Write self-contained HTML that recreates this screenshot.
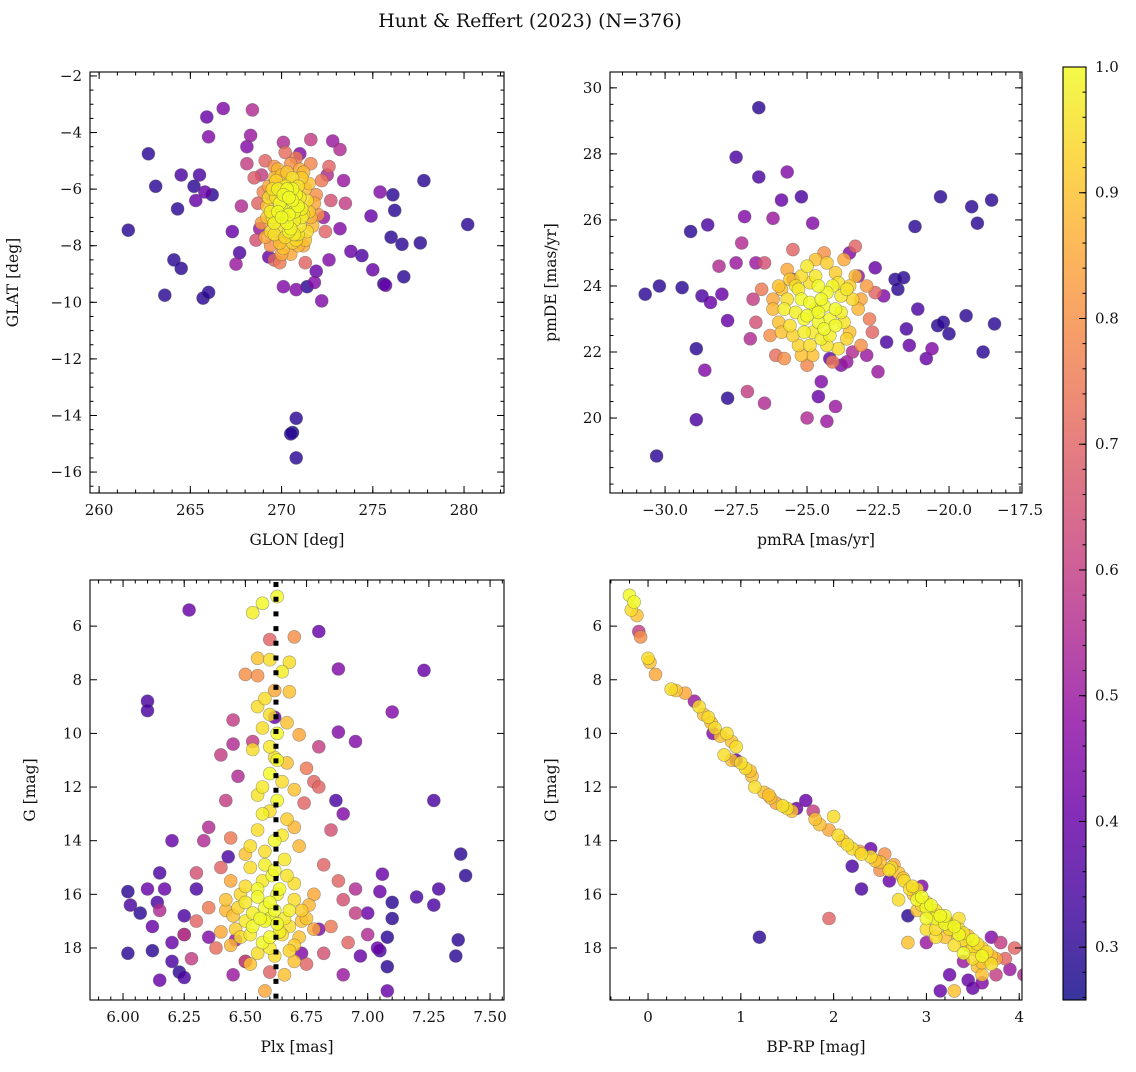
<!DOCTYPE html>
<html><head><meta charset="utf-8">
<style>
html,body{margin:0;padding:0;background:#fff;}
svg text{font-family:"DejaVu Serif","Liberation Serif",serif;fill:#111;}
</style></head>
<body>
<svg id="fig" width="1136" height="1067" viewBox="0 0 1136 1067" xmlns="http://www.w3.org/2000/svg">
<text x="530" y="27" font-size="19" text-anchor="middle">Hunt &amp; Reffert (2023) (N=376)</text>
</svg>
<script>
// ---- data: [x, y, membership probability] per panel ----
const glonData = [261.6,262.7,263.1,263.6,264.1,264.3,264.5,264.5,265.2,265.3,265.5,265.7,265.8,265.9,266,266,266.2,266.8,267.3,267.5,267.7,267.8,268.1,268.1,268.4,268.3,268.8,268.9,269.3,269.4,269.6,270.1,270.1,270,270.5,270.6,270.8,270.8,270.8,271,271.4,271.6,271.8,271.9,272.2,272.3,272.6,272.8,272.5,273.2,273.4,273.2,273.5,273.8,274.4,274.9,275,275.4,275.6,275.7,276,276.1,276.2,276.6,276.7,277.6,277.8,280.2,
270.5,270.2,270.8,269.9,271.1,270.4,270.9,269.7,271.3,270.0,270.6,269.5,271.5,270.3,270.7,269.8,271.0,269.3,271.7,270.1,269.2,271.9,270.5,269.6,271.2,268.9,272.0,270.8,269.0,272.2,269.4,271.6,268.7,272.4,270.2,269.1,272.7,268.5,271.3,269.9,272.6,268.6,270.6,270.0,270.9,270.4,269.6,271.4,269.4,271.1,
270.3,270.7,269.9,271.0,270.5,269.8,271.2,270.1,270.6,269.6,271.4,270.4,270.8,269.5,270.2,271.0,269.7,270.9,269.4,271.3,270.0,270.6,270.3,271.5,269.3,270.7,269.9,271.1,270.4,269.8,271.6,270.2,270.9,269.2,271.8,270.5,269.6,271.2,270.0,269.1];
const glatData = [-7.45,-4.75,-5.9,-9.75,-8.5,-6.7,-5.5,-8.8,-5.9,-6.4,-5.5,-9.85,-6.1,-3.45,-4.15,-9.65,-6.2,-3.15,-7.5,-8.65,-8.25,-6.6,-4.5,-5.1,-3.2,-4.1,-7.4,-5.5,-8.4,-6.2,-8.5,-4.35,-9.45,-7.8,-14.65,-14.6,-15.5,-14.1,-9.55,-4.75,-9.45,-4.25,-9.3,-8.9,-9.95,-7,-8.5,-4.3,-5.5,-4.6,-5.7,-7.4,-6.5,-8.2,-8.35,-6.95,-8.85,-6.1,-9.35,-9.4,-7.7,-6.2,-6.75,-7.95,-9.1,-7.9,-5.7,-7.25,
-6.5,-6.9,-6.2,-7.3,-7.0,-5.8,-7.6,-6.3,-6.0,-5.5,-7.9,-7.0,-6.8,-7.2,-6.8,-6.0,-5.3,-5.9,-7.3,-8.1,-6.6,-6.2,-5.1,-5.2,-8.0,-7.2,-6.9,-4.9,-6.1,-5.7,-8.0,-5.1,-6.5,-7.5,-4.7,-5.0,-6.4,-5.6,-8.6,-8.6,-5.2,-7.8,-6.0,-6.7,-6.6,-7.5,-7.6,-7.5,-6.8,-5.6,
-6.0,-7.1,-6.5,-6.3,-7.4,-6.8,-6.9,-6.2,-5.6,-7.2,-6.4,-6.9,-7.8,-6.0,-7.7,-7.3,-5.7,-5.9,-7.5,-7.8,-7.0,-6.4,-5.4,-5.8,-6.3,-7.6,-7.9,-6.7,-6.3,-5.3,-7.0,-5.9,-8.0,-7.0,-6.5,-8.3,-5.6,-5.4,-8.3,-7.7];
const probP1 = [.3,.3,.3,.3,.3,.3,.35,.3,.3,.4,.35,.3,.4,.4,.45,.3,.3,.45,.4,.5,.35,.55,.45,.6,.55,.5,.5,.6,.4,.6,.7,.55,.45,.7,.3,.25,.3,.3,.45,.45,.3,.6,.45,.4,.45,.5,.45,.5,.55,.55,.5,.45,.6,.4,.35,.4,.4,.45,.3,.4,.3,.3,.3,.3,.3,.3,.3,.3,
1,1,1,.95,.98,.95,.97,.96,.9,.9,.93,.97,.92,1,1,.98,.85,.85,.88,.9,.9,.8,.8,.8,.85,.82,.8,.75,.78,.75,.8,.78,.7,.7,.72,.7,.65,.68,.7,.75,.7,.65,1,1,1,.99,.95,.95,.98,.92,
1,.98,1,.97,.99,1,.96,1,.95,.98,.95,1,.94,.96,.95,.97,.93,.96,.94,.9,1,1,.9,.9,.95,.97,.9,.98,1,.88,.88,.97,.88,.9,.85,.85,.88,.88,.85,.85];

const pmraData = [-30.7,-30.3,-30.2,-29.4,-29.1,-28.9,-28.9,-28.7,-28.5,-28.6,-28.4,-28.1,-28.0,-27.8,-27.8,-27.5,-27.5,-27.3,-27.2,-27.1,-26.8,-26.7,-26.7,-26.5,-26.2,-25.9,-25.7,-25.5,-25.2,-25,-24.8,-24.6,-24.5,-24.3,-24.2,-24,-23.8,-23.6,-23.5,-23.4,-23.2,-22.9,-22.6,-22.5,-22.3,-22.2,-21.9,-21.8,-21.6,-21.5,-21.4,-21.2,-21.1,-20.8,-20.6,-20.4,-20.3,-20.2,-20.0,-19.4,-19.2,-19.0,-18.8,-18.5,-18.4,-22.7,-26.9,-27.0,
-24.7,-25.2,-24.2,-25.6,-23.8,-24.9,-24.5,-25.9,-23.5,-24.0,-25.3,-26.2,-23.2,-24.8,-25.7,-23.7,-26.3,-22.9,-24.4,-25.0,-26.6,-23.1,-26.1,-22.8,-25.5,-24.1,-26.5,-23.3,-26.8,-22.6,-25.1,-24.3,-24.6,-25.0,-23.9,-25.8,-23.6,-24.4,-25.4,-24.1,
-24.9,-24.4,-25.4,-24.0,-24.7,-25.1,-23.7,-25.7,-24.2,-24.6,-25.3,-23.9,-24.8,-26.0,-23.4,-25.5,-24.3,-25.0,-23.6,-26.0,-24.5,-25.2,-23.3,-24.9,-25.9,-24.0,-24.6,-25.6,-23.8,-24.3,-25.2,-23.5,-26.2,-24.7,-23.1,-25.8];
const pmdeData = [23.75,18.85,24,23.95,25.65,22.1,19.95,23.7,25.85,21.45,23.5,24.6,23.75,22.95,20.6,27.9,24.7,25.3,26.1,20.8,24.7,29.4,27.3,20.45,26.05,26.6,27.45,24.2,26.7,20,25.9,20.65,21.1,19.9,21.8,20.35,21.6,21.7,25,22.0,24.3,21.9,24.55,21.4,23.7,22.3,24.2,23.9,24.25,22.7,22.2,25.8,23.3,21.8,22.1,22.8,26.7,22.9,22.55,23.1,26.4,25.9,22.0,26.6,22.85,22.6,23.6,22.4,
23.3,23.6,23.0,22.8,23.7,24.1,22.4,23.9,22.6,24.4,22.2,23.3,23.3,21.9,24.5,24.8,22.5,24.0,25.0,21.6,23.9,22.2,21.9,23.0,25.1,21.7,24.7,25.2,22.9,23.8,23.0,23.8,22.9,24.6,22.1,23.3,23.9,22.7,24.0,24.0,
23.5,23.4,23.2,23.3,24.3,22.6,22.9,23.6,22.5,24.0,23.9,24.1,22.6,22.9,23.6,22.5,24.7,23.1,22.4,24.0,23.6,24.3,24.3,22.2,22.6,22.8,23.2,24.2,23.2,22.2,21.9,24.0,23.6,24.8,23.6,21.8];
const probP2 = [.3,.3,.3,.3,.3,.3,.35,.35,.35,.45,.4,.55,.4,.4,.3,.35,.5,.55,.45,.6,.5,.3,.35,.55,.5,.4,.45,.6,.35,.55,.45,.4,.45,.5,.4,.5,.45,.5,.45,.55,.5,.5,.4,.5,.45,.35,.3,.3,.3,.35,.4,.3,.35,.4,.45,.3,.3,.3,.3,.3,.3,.3,.3,.3,.3,.7,.6,.55,
1,1,1,.95,.97,.95,.98,.9,.9,.92,.93,.88,.88,.9,.85,.85,.8,.82,.8,.78,.75,.8,.72,.75,.7,.75,.65,.7,.65,.7,1,1,1,.97,.95,.98,.97,1,.96,.99,
1,1,.98,1,.97,.98,.96,.95,.98,1,.97,.96,.97,.9,.94,.93,.92,1,.93,.9,1,.95,.9,.95,.9,1,1,.92,.98,.96,.9,.92,.85,.9,.85,.8];

const plxData = [6.63,6.57,6.53,6.55,6.6,6.68,6.5,6.65,6.62,6.68,6.55,6.6,6.67,6.57,6.63,6.72,6.53,6.62,6.67,6.6,6.65,6.57,6.7,6.63,6.6,6.67,6.55,6.7,6.62,6.58,6.66,6.52,6.61,6.7,6.55,6.63,6.5,6.58,6.68,6.45,6.6,6.73,6.53,6.64,6.48,6.57,6.7,6.62,6.52,6.66,6.58,6.42,6.76,6.78,6.4,6.44,6.5,6.72,
6.53,6.45,6.4,6.75,6.78,6.8,6.74,6.42,6.47,6.85,6.82,6.35,6.4,6.3,6.88,6.9,6.35,6.3,6.85,6.92,6.38,6.82,6.5,6.75,6.6,6.7,6.55,6.6,6.8,6.44,6.95,6.25,6.28,7.0,6.95,6.15,6.45,6.33,
6.27,6.8,6.88,7.23,6.1,6.1,6.62,7.1,6.88,6.95,6.87,7.27,6.9,6.2,6.43,7.38,6.15,7.06,7.4,6.02,6.1,6.17,6.3,7.05,7.1,7.2,7.29,6.03,6.07,6.14,6.25,7.0,6.12,7.1,7.27,6.25,6.8,7.08,6.2,6.02,6.12,6.35,6.46,6.2,6.23,6.25,6.15,6.5,6.45,7.05,7.04,6.97,7.08,7.37,7.36,6.73,6.9,7.08,
6.55,6.62,6.5,6.68,6.58,6.46,6.7,6.6,6.53,6.66,6.48,6.72,6.57,6.64,6.5,6.75,6.44,6.6,6.68,6.55,6.62,6.58,6.67,6.52,6.65,6.57,6.63,6.55,6.6,6.58,6.47,6.73,6.6,6.52,6.65,6.42,6.78,6.56,6.63,6.7];
const gPlxData = [4.9,5.15,5.5,7.2,7.25,7.35,7.8,7.7,8.4,8.45,9,9.3,9.6,9.8,10.0,10.05,10.6,10.9,11.1,11.5,11.8,12.0,12.1,12.5,12.9,13.2,13.6,13.5,14.0,14.4,14.7,15.0,15.3,15.6,15.8,16.0,16.3,16.5,16.6,16.8,16.9,17.0,17.2,17.4,17.6,17.8,17.9,18.3,18.6,19.0,19.6,16.2,16.4,17.3,17.4,15.5,14.5,14.2,
10.3,10.4,10.8,11.3,11.8,12,12.6,12.5,11.6,13.6,14.9,13.5,15.0,15.2,15.5,16.2,16.5,17.0,17.2,17.8,18.0,18.2,18.5,18.6,18.9,6.4,7.85,6.5,10.5,13.9,16.7,17.5,18.4,17.5,15.8,16.6,9.5,14.0,
5.4,6.2,7.6,7.65,8.8,9.15,9.4,9.2,9.95,10.3,12.5,12.5,13.0,14.0,14.6,14.5,15.2,15.25,15.3,15.9,15.8,15.8,15.8,15.9,16.3,16.1,15.8,16.4,16.7,16.3,16.8,16.7,17.2,16.9,16.4,17.5,17.3,17.6,17.8,18.2,18.1,17.6,17.7,18.5,18.9,19.1,19.2,18.5,19.0,18.1,18.0,18.3,18.7,17.7,18.3,18.2,19.0,19.6,
16.1,16.6,17.0,17.2,17.0,17.3,16.2,17.6,16.7,16.9,16.0,17.6,15.5,15.8,15.7,16.9,17.9,18.0,18.1,18.2,15.1,14.9,15.3,14.2,13.8,13.0,11.0,12.3,10.5,8.7,16.5,16.6,16.3,17.5,17.5,16.6,16.0,16.9,17.1,18.5];
const probP3 = [1,1,.98,.9,.95,.95,.8,.98,.85,.9,.95,.95,.9,.95,1,.85,.95,.95,.9,1,.95,.97,.9,1,.95,.92,.95,.88,1,.95,.97,.95,1,.95,1,1,.97,1,.98,.9,1,.9,1,.98,.95,1,.92,.95,.9,.9,.85,.9,.88,.85,.85,.85,.9,.88,
.6,.55,.6,.75,.7,.7,.7,.6,.55,.65,.7,.55,.7,.65,.7,.65,.75,.7,.75,.7,.72,.65,.65,.7,.7,.8,.8,.7,.6,.75,.6,.6,.6,.55,.55,.55,.6,.55,
.4,.4,.45,.4,.35,.35,.4,.45,.45,.45,.35,.35,.45,.4,.35,.3,.35,.4,.3,.3,.4,.4,.35,.4,.3,.35,.35,.35,.3,.35,.35,.4,.4,.3,.35,.4,.45,.3,.4,.3,.3,.45,.5,.35,.3,.35,.4,.45,.5,.35,.4,.4,.3,.3,.3,.45,.5,.4,
1,1,.97,.95,1,.92,.95,1,.98,.97,.94,.9,.97,1,.95,.9,.88,.97,.93,.95,1,.98,.96,.95,.97,.98,1,.96,.97,.95,.93,.92,1,.97,.95,.88,.85,1,1,.9];

const bprpData = [-0.2,-0.15,-0.18,-0.12,-0.1,-0.08,0,0.02,0.08,0.3,0.4,0.5,0.55,0.6,0.68,0.72,0.78,0.85,0.95,0.82,0.9,1.05,1.12,1.15,1.25,1.32,1.38,1.5,1.55,1.7,1.85,1.95,2.0,2.05,2.1,2.2,2.28,2.4,2.5,2.55,2.62,2.7,2.76,2.82,2.86,2.9,2.95,3.0,3.05,3.1,3.15,3.2,3.25,3.3,3.35,3.4,3.45,3.5,3.55,3.6,3.65,3.7,3.55,3.6,3.3,2.8,3.0,3.2,2.7,2.9,3.1,3.35,2.5,1.95,1.2,2.3,2.2,1.78,3.9,4.1,4.05,3.85,3.95,3.8,3.6,3.45,3.25,2.8,2.6,3.5,3.15,3.75,3.4,2.4,1.6,0.95,0.7,3.0,3.7,2.95,
2.3,2.45,2.6,2.75,2.85,2.95,3.0,3.05,3.1,3.15,3.2,3.25,3.3,3.35,3.4,3.45,3.5,3.55,3.6,3.65,3.7,3.75,3.6,3.5,3.4,3.3,3.2,3.1,3.0,2.9,1.0,1.1,0.65,0.9,1.45,1.8,2.15,2.65,1.3,0.25];
const gCmdData = [4.85,5.1,5.4,5.6,6.2,6.4,7.2,7.35,7.8,8.4,8.5,8.8,9.0,9.3,9.6,9.8,10.1,10.0,10.5,10.8,11.0,11.3,11.6,12.0,12.2,12.4,12.6,12.8,12.9,12.5,13.4,13.6,13.1,13.8,14.0,14.3,14.4,14.6,14.8,14.5,15.0,15.2,15.5,15.8,16.0,16.2,16.4,16.5,16.7,16.9,17.0,17.1,17.3,17.4,17.5,17.7,17.9,18.0,18.1,18.3,18.4,18.6,18.7,19.0,19.6,17.8,17.3,16.8,16.2,15.8,17.6,16.9,15.1,16.9,17.6,15.8,14.95,12.9,18.8,18.1,19.0,18.4,18.0,17.8,19.3,19.2,19.0,16.8,15.5,19.5,19.6,19.0,18.5,14.3,12.8,11.0,10.0,17.8,17.6,15.7,
14.5,14.75,15.1,15.4,15.7,16.1,16.3,16.4,16.6,16.8,16.95,17.1,17.2,17.3,17.45,17.55,17.7,17.85,18.0,18.15,18.3,18.4,18.55,18.4,18.2,17.9,17.6,17.3,16.9,16.6,11.1,11.4,9.4,10.3,12.7,13.2,14.15,14.9,12.3,8.35];
const probP4 = [1,1,.95,.9,.6,.8,.95,.9,.85,.9,.85,.5,.95,.9,.9,.95,.9,.95,.95,.95,.9,.95,.9,.95,.9,.9,.85,.95,.9,.4,.9,.85,.95,.95,.9,.95,.85,.95,.9,.8,.95,.9,.95,.95,.9,1,.95,1,.95,1,.95,1,.95,.9,1,.95,.9,.95,.9,1,.9,.95,.9,.9,.9,.9,.95,1,.95,.95,.95,.95,.8,.7,.3,.35,.35,.6,.5,.4,.55,.7,.7,.6,.45,.4,.4,.3,.4,.4,.4,.6,.5,.4,.4,.4,.45,.5,.45,.45,
.95,.9,.95,.9,.95,1,.95,1,.95,1,.95,.9,1,.95,.95,.9,1,.95,.9,.95,.9,.85,.9,.95,1,.95,.9,.95,1,.9,.95,.9,.95,.9,.95,.9,.95,.85,.9,.95];

const cbTicks = [0.3,0.4,0.5,0.6,0.7,0.8,0.9,1.0];
const VMIN = 0.258, VMAX = 1.0;

const NS = "http://www.w3.org/2000/svg";
const svg = document.getElementById('fig');
function mk(tag, attrs, parent){
  const e = document.createElementNS(NS, tag);
  for (const k in attrs) e.setAttribute(k, attrs[k]);
  (parent||svg).appendChild(e);
  return e;
}
const plasma = [[13,8,135],[65,4,157],[106,0,168],[143,13,164],[177,42,144],[204,71,120],[225,100,98],[242,132,75],[252,166,54],[252,206,37],[240,249,33]];
function cmap(v){
  let t = (v-VMIN)/(VMAX-VMIN); t=Math.max(0,Math.min(1,t));
  const f=t*10, i=Math.min(9,Math.floor(f)), r=f-i;
  const a=plasma[i], b=plasma[i+1];
  return 'rgb('+a.map((c,j)=>Math.round(c+(b[j]-c)*r)).join(',')+')';
}
function fmt(v, dec){ const s=v.toFixed(dec); return s.replace('-', '\u2212'); }

const panels = [
 {name:'glon-glat', box:[90,72,504,493], xlim:[259.5,282.19], ylim:[-16.74,-1.86], xt:[260,280,5,0], xm:1, yt:[-16,-2,2,0], ym:0.5, x:glonData, y:glatData, p:probP1, xl:'GLON [deg]', yl:'GLAT [deg]', ylx:18},
 {name:'pmra-pmde', box:[610,72,1022,493], xlim:[-31.94,-17.43], ylim:[17.73,30.48], xt:[-30,-17.5,2.5,1], xm:0.5, yt:[20,30,2,0], ym:0.5, x:pmraData, y:pmdeData, p:probP2, xl:'pmRA [mas/yr]', yl:'pmDE [mas/yr]', ylx:556},
 {name:'plx-g', box:[90,580,504,1000], xlim:[5.865,7.557], ylim:[19.94,4.28], xt:[6,7.5,0.25,2], xm:0.05, yt:[6,18,2,0], ym:0.5, x:plxData, y:gPlxData, p:probP3, xl:'Plx [mas]', yl:'G [mag]', ylx:35, vline:6.625},
 {name:'cmd', box:[610,580,1022,1000], xlim:[-0.41,4.03], ylim:[19.94,4.28], xt:[0,4,1,0], xm:0.2, yt:[6,18,2,0], ym:0.5, x:bprpData, y:gCmdData, p:probP4, xl:'BP-RP [mag]', yl:'G [mag]', ylx:556}
];

panels.forEach((P, pi)=>{
  const [x0,y0,x1,y1]=P.box;
  const sx=v=>x0+(v-P.xlim[0])/(P.xlim[1]-P.xlim[0])*(x1-x0);
  const sy=v=>y1-(v-P.ylim[0])/(P.ylim[1]-P.ylim[0])*(y1-y0);
  const g=mk('g',{});
  
  
  const cid='clip'+pi;
  const cp=mk('clipPath',{id:cid},g); mk('rect',{x:x0,y:y0,width:x1-x0,height:y1-y0},cp);
  const pts=mk('g',{'clip-path':'url(#'+cid+')'},g);
  
  
  const idx=P.x.map((_,i)=>i).sort((a,b)=>P.p[a]-P.p[b]);
  idx.forEach(i=>{
    const c=mk('circle',{cx:sx(P.x[i]).toFixed(1),cy:sy(P.y[i]).toFixed(1),r:6.5,fill:cmap(P.p[i]),'fill-opacity':0.82,stroke:'rgba(90,90,90,0.55)','stroke-width':0.6},pts);
    
    
  });
  if (P.vline!==undefined){
    const l=mk('line',{x1:sx(P.vline),x2:sx(P.vline),y1:y0+2,y2:y1,stroke:'#000','stroke-width':5,'stroke-dasharray':'5,9.7'},pts);
    
    
  }
  mk('rect',{x:x0,y:y0,width:x1-x0,height:y1-y0,fill:'none',stroke:'#000','stroke-width':1.1},g);
  const [xa,xb,xs,xd]=P.xt;
  for(let v=Math.ceil(P.xlim[0]/P.xm)*P.xm; v<=P.xlim[1]+1e-9; v+=P.xm){
    const X=sx(v); mk('line',{x1:X,x2:X,y1:y1,y2:y1-3.5,stroke:'#000'},g); mk('line',{x1:X,x2:X,y1:y0,y2:y0+3.5,stroke:'#000'},g);
  }
  for(let v=xa; v<=xb+1e-9; v+=xs){
    const X=sx(v); mk('line',{x1:X,x2:X,y1:y1,y2:y1-7,stroke:'#000'},g); mk('line',{x1:X,x2:X,y1:y0,y2:y0+7,stroke:'#000'},g);
    const t=mk('text',{x:X,y:y1+22,'font-size':15,'text-anchor':'middle'},g); t.textContent=fmt(v,xd);
    
    
  }
  const [ya,yb,ys,yd]=P.yt;
  for(let v=Math.ceil(P.ylim[0]/P.ym)*P.ym; v<=P.ylim[1]+1e-9; v+=P.ym){
    const Y=sy(v); mk('line',{x1:x0,x2:x0+3.5,y1:Y,y2:Y,stroke:'#000'},g); mk('line',{x1:x1,x2:x1-3.5,y1:Y,y2:Y,stroke:'#000'},g);
  }
  for(let v=ya; v<=yb+1e-9; v+=ys){
    const Y=sy(v); mk('line',{x1:x0,x2:x0+7,y1:Y,y2:Y,stroke:'#000'},g); mk('line',{x1:x1,x2:x1-7,y1:Y,y2:Y,stroke:'#000'},g);
    const t=mk('text',{x:x0-8,y:Y+5,'font-size':15,'text-anchor':'end'},g); t.textContent=fmt(v,yd);
    
    
  }
  const xl=mk('text',{x:(x0+x1)/2,y:y1+52,'font-size':15.5,'text-anchor':'middle'},g); xl.textContent=P.xl;
  
  
  const yl=mk('text',{x:P.ylx,y:(y0+y1)/2,'font-size':15.5,'text-anchor':'middle',transform:'rotate(-90 '+P.ylx+' '+((y0+y1)/2)+')'},g); yl.textContent=P.yl;
  
  
});

// colorbar
const cb=mk('g',{});


const defs=mk('defs',{},cb);
const lg=mk('linearGradient',{id:'cbg',x1:0,y1:1,x2:0,y2:0},defs);
for(let i=0;i<=20;i++){ const v=VMIN+(VMAX-VMIN)*i/20; mk('stop',{offset:(i/20),'stop-color':cmap(v),'stop-opacity':0.82},lg); }
const CX0=1063, CX1=1086, CY0=67, CY1=1000;
const cy=v=>CY1-(v-VMIN)/(VMAX-VMIN)*(CY1-CY0);
mk('rect',{x:CX0,y:CY0,width:CX1-CX0,height:CY1-CY0,fill:'url(#cbg)',stroke:'#000','stroke-width':1.1},cb);
for(let v=0.26; v<=1.0001; v+=0.02){ const Y=cy(v); mk('line',{x1:CX1,x2:CX1-3.5,y1:Y,y2:Y,stroke:'#000'},cb); }
cbTicks.forEach(v=>{
  const Y=cy(v); mk('line',{x1:CX1,x2:CX1-7,y1:Y,y2:Y,stroke:'#000'},cb);
  const t=mk('text',{x:CX1+9,y:Y+5,'font-size':15},cb); t.textContent=v.toFixed(1);
  
  
});
</script>
</body></html>
